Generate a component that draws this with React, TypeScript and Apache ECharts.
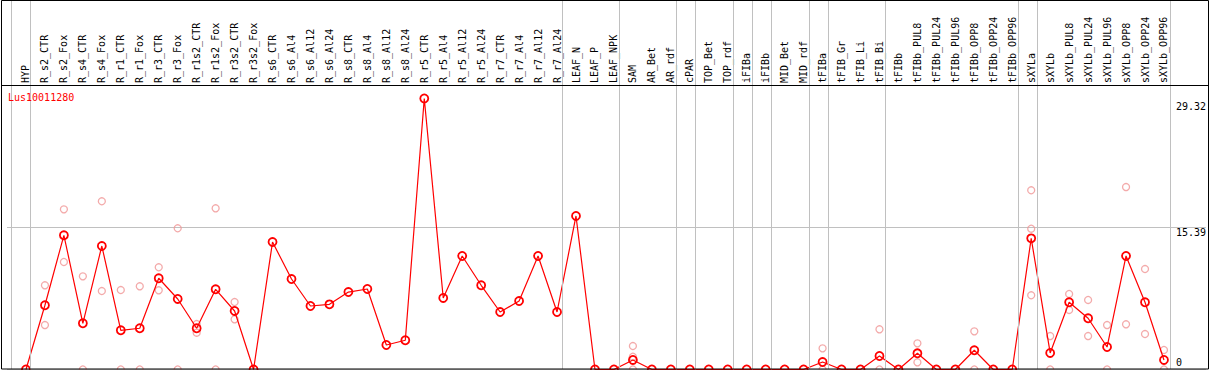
import React, { useEffect, useRef } from 'react';
import * as echarts from 'echarts';

const categories = [
  'HYP', 'R_s2_CTR', 'R_s2_Fox', 'R_s4_CTR', 'R_s4_Fox', 'R_r1_CTR', 'R_r1_Fox', 'R_r3_CTR', 'R_r3_Fox',
  'R_r1s2_CTR', 'R_r1s2_Fox', 'R_r3s2_CTR', 'R_r3s2_Fox', 'R_s6_CTR', 'R_s6_Al4', 'R_s6_Al12', 'R_s6_Al24',
  'R_s8_CTR', 'R_s8_Al4', 'R_s8_Al12', 'R_s8_Al24', 'R_r5_CTR', 'R_r5_Al4', 'R_r5_Al12', 'R_r5_Al24',
  'R_r7_CTR', 'R_r7_Al4', 'R_r7_Al12', 'R_r7_Al24', 'LEAF_N', 'LEAF_P', 'LEAF_NPK', 'SAM', 'AR_Bet', 'AR_rdf',
  'cPAR', 'TOP_Bet', 'TOP_rdf', 'iFIBa', 'iFIBb', 'MID_Bet', 'MID_rdf', 'tFIBa', 'tFIB_Gr', 'tFIB_Li', 'tFIB_Bi',
  'tFIBb', 'tFIBb_PUL8', 'tFIBb_PUL24', 'tFIBb_PUL96', 'tFIBb_OPP8', 'tFIBb_OPP24', 'tFIBb_OPP96',
  'sXYLa', 'sXYLb', 'sXYLb_PUL8', 'sXYLb_PUL24', 'sXYLb_PUL96', 'sXYLb_OPP8', 'sXYLb_OPP24', 'sXYLb_OPP96',
];

const means = [
  0, 6.95, 14.52, 5.0, 13.36, 4.24, 4.46, 9.87, 7.63,
  4.46, 8.68, 6.33, 0, 13.79, 9.79, 6.87, 7.05,
  8.38, 8.71, 2.65, 3.16, 29.32, 7.74, 12.28, 9.11,
  6.22, 7.41, 12.28, 6.22, 16.61, 0, 0, 1.03, 0, 0,
  0, 0, 0, 0, 0, 0, 0, 0.81, 0, 0, 1.46,
  0, 1.75, 0, 0, 2.08, 0, 0,
  14.19, 1.79, 7.27, 5.54, 2.43, 12.28, 7.27, 1.03,
];

const replicates: number[][] = [
  [], [9.11, 4.81], [17.33, 11.63], [10.08, 0], [18.2, 8.49], [8.6, 0], [9.0, 0], [11.06, 8.57], [15.28, 0],
  [4.92, 3.98], [17.44, 0], [7.3, 5.43], [], [], [], [], [],
  [], [], [], [], [], [], [], [],
  [], [], [], [], [], [], [], [2.54, 1.38, 0], [], [],
  [], [], [], [], [], [], [], [2.29, 0], [], [], [4.35, 0],
  [], [2.83, 0.78], [], [], [4.13, 0], [], [],
  [19.39, 15.23, 8.03], [3.62, 0], [8.17, 6.44], [7.52, 3.62], [4.81, 0], [19.74, 4.89], [10.87, 3.84], [2.11, 0],
];

const groupEnds = [
  'HYP', 'R_r7_Al24', 'LEAF_NPK', 'AR_rdf', 'cPAR', 'TOP_rdf', 'iFIBa', 'iFIBb', 'MID_rdf',
  'tFIBa', 'tFIB_Bi', 'tFIBb_OPP96', 'sXYLa', 'sXYLb_OPP96',
];

const yTickLabels = [0, 15.39, 29.32];
const title = 'Lus10011280';

export default function App() {
  const ref = useRef<HTMLDivElement>(null);

  useEffect(() => {
    const chart = echarts.init(ref.current!, null, { renderer: 'svg' });
    const font = 'DejaVu Sans Mono';
    const step = 19;
    const gridLeft = 7;
    const gridRight = 1208;
    const plotTop = 85;
    const plotBottom = 369.5;
    const xMin = -1;
    const xMax = xMin + (gridRight - gridLeft) / step;
    const yMid = yTickLabels[1];
    const yMaxData = yTickLabels[2];
    const yTop = yMid * 2;
    const sepOffset = 4.5 / step;
    const sepValues = [-1, ...groupEnds.map((g) => categories.indexOf(g))].map((i) => i + sepOffset);
    const lineData = means.map((v, i) => [i, v]);
    const repData = replicates.flatMap((r, i) => r.map((v) => [i, v]));

    const labelRich: Record<string, any> = {
      top: { fontFamily: font, fontSize: 10, color: '#000', padding: [17, 0, 0, 0] },
      mid: { fontFamily: font, fontSize: 10, color: '#000', padding: [9.5, 0, 0, 0] },
      zero: { fontFamily: font, fontSize: 10, color: '#000', padding: [0, 0, 15, 0] },
    };

    chart.setOption({
      animation: false,
      backgroundColor: '#fff',
      title: {
        text: title,
        left: 8,
        top: 92,
        padding: 0,
        textStyle: { color: '#ff0000', fontSize: 10, fontFamily: font, fontWeight: 'normal' },
      },
      grid: [
        { left: gridLeft, top: plotTop, width: gridRight - gridLeft, height: plotBottom - plotTop },
        { left: gridLeft, top: 0, width: gridRight - gridLeft, height: plotBottom },
      ],
      xAxis: [
        {
          gridIndex: 0,
          type: 'value',
          position: 'top',
          min: xMin,
          max: xMax,
          interval: 1,
          axisLine: { show: false },
          axisTick: { show: false },
          splitLine: { show: false },
          axisLabel: {
            rotate: 90,
            margin: 2,
            fontFamily: font,
            fontSize: 10,
            color: '#000',
            showMinLabel: true,
            showMaxLabel: true,
            formatter: (v: number) => (Number.isInteger(v) && categories[v] ? categories[v] : ''),
          },
        },
        { gridIndex: 1, type: 'value', min: xMin, max: xMax, show: false },
      ],
      yAxis: [
        {
          gridIndex: 0,
          type: 'value',
          position: 'right',
          min: 0,
          max: yTop,
          interval: yMid,
          axisLine: { show: false },
          axisTick: { show: false },
          splitLine: { show: true, lineStyle: { color: '#c0c0c0', width: 1 } },
          axisLabel: {
            inside: true,
            margin: 30,
            align: 'left',
            customValues: yTickLabels,
            showMinLabel: true,
            showMaxLabel: true,
            formatter: (v: number) => {
              if (v === 0) return '{zero|0}';
              if (Math.abs(v - yMaxData) < 1e-6) return '{top|' + yMaxData.toFixed(2) + '}';
              return '{mid|' + v.toFixed(2) + '}';
            },
            rich: labelRich,
          },
        },
        { gridIndex: 1, type: 'value', min: 0, max: 1, show: false },
      ],
      series: [
        {
          type: 'line',
          xAxisIndex: 1,
          yAxisIndex: 1,
          data: [],
          z: 1,
          silent: true,
          markLine: {
            silent: true,
            symbol: 'none',
            animation: false,
            label: { show: false },
            lineStyle: { color: '#c0c0c0', width: 1, type: 'solid' },
            data: sepValues.map((v) => ({ xAxis: v })),
          },
        },
        {
          type: 'scatter',
          xAxisIndex: 0,
          yAxisIndex: 0,
          data: repData,
          symbol: 'circle',
          symbolSize: 7,
          z: 2,
          itemStyle: { color: 'rgba(0,0,0,0)', borderColor: '#f09595', borderWidth: 1.3 },
        },
        {
          type: 'line',
          xAxisIndex: 0,
          yAxisIndex: 0,
          data: lineData,
          symbol: 'circle',
          symbolSize: 8,
          showAllSymbol: true,
          z: 3,
          lineStyle: { color: '#ff0000', width: 1.2 },
          itemStyle: { color: 'rgba(255,255,255,0)', borderColor: '#ff0000', borderWidth: 1.8 },
        },
      ],
      graphic: [
        {
          type: 'rect',
          silent: true,
          z: 100,
          shape: { x: 1.5, y: 0.5, width: 1207, height: 368.5 },
          style: { fill: 'none', stroke: '#000', lineWidth: 1 },
        },
        {
          type: 'line',
          silent: true,
          z: 100,
          shape: { x1: 1.5, y1: 85.5, x2: 1208.5, y2: 85.5 },
          style: { stroke: '#000', lineWidth: 1 },
        },
      ],
    });

    return () => chart.dispose();
  }, []);

  return (
    <div
      ref={ref}
      style={{ position: 'fixed', left: 0, top: 0, width: 1209, height: 370, background: '#fff' }}
    />
  );
}
